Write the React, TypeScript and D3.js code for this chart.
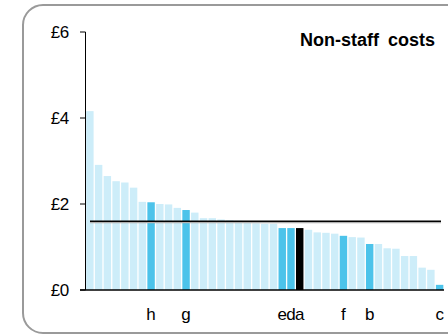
import * as d3 from 'd3'

// Non-staff costs per unit, sorted descending
const values = [
  4.16, 2.91, 2.65, 2.53, 2.5, 2.38, 2.05, 2.04, 2.0, 1.99, 1.91, 1.86, 1.8, 1.67,
  1.67, 1.64, 1.62, 1.61, 1.6, 1.55, 1.54, 1.54, 1.44, 1.44, 1.44, 1.4, 1.34, 1.33,
  1.31, 1.26, 1.23, 1.22, 1.07, 1.07, 0.97, 0.96, 0.79, 0.79, 0.52, 0.47, 0.12,
]
const labels = [
  '', '', '', '', '', '', '', 'h', '', '', '', 'g', '', '', '', '', '', '', '', '', '',
  '', 'e', 'd', 'a', '', '', '', '', 'f', '', '', 'b', '', '', '', '', '', '', '', 'c',
]
const focus = 'a'
const average = 1.6
const yTicks = [0, 2, 4, 6]
const title = 'Non-staff costs'

const W = 448
const H = 336
const font = '"Liberation Sans", Arial, sans-serif'

export default function App() {
  const x = d3.scaleBand<number>()
    .domain(values.map((_, i) => i))
    .range([85.5, 444])
    .paddingInner(0.15)
    .paddingOuter(0.075)
  const y = d3.scaleLinear().domain([0, 6]).range([290, 32])

  const fill = (i: number) => {
    if (labels[i] === focus) return '#000000'
    if (labels[i]) return '#4cc3ea'
    return '#cdedf9'
  }

  return (
    <svg width={W} height={H} style={{ position: 'absolute', left: 0, top: 0 }} fontFamily={font}>
      <rect x={23} y={5} width={460} height={328} rx={20} fill="#fff" stroke="#9a9a9a" strokeWidth={2} />

      {values.map((v, i) => (
        <rect key={i} x={x(i)} y={y(v)} width={x.bandwidth()} height={y(0) - y(v)} fill={fill(i)} />
      ))}

      {/* average line with soft shadow */}
      <line x1={90} x2={441} y1={y(average) + 1.2} y2={y(average) + 1.2} stroke="#b0b0b0" strokeWidth={1.5} />
      <line x1={90} x2={441} y1={y(average)} y2={y(average)} stroke="#000" strokeWidth={1.6} />

      {/* y axis */}
      <line x1={85.5} x2={85.5} y1={y(6)} y2={y(0)} stroke="#000" strokeWidth={1} />
      {yTicks.map((t) => (
        <g key={t}>
          <line x1={80} x2={85.5} y1={y(t)} y2={y(t)} stroke="#000" strokeWidth={1} />
          <text x={69} y={y(t)} dy="0.36em" textAnchor="end" fontSize={17} letterSpacing={-0.3} fill="#000">
            £{t}
          </text>
        </g>
      ))}

      {/* x axis */}
      <line x1={80} x2={444} y1={y(0)} y2={y(0)} stroke="#000" strokeWidth={1.5} />
      {labels.map((l, i) =>
        l ? (
          <text key={i} x={(x(i) ?? 0) + x.bandwidth() / 2} y={320} textAnchor="middle" fontSize={17} fill="#000">
            {l}
          </text>
        ) : null,
      )}

      <text x={435} y={45.5} textAnchor="end" fontSize={18} fontWeight="bold" wordSpacing={4} fill="#000">
        {title}
      </text>
    </svg>
  )
}
